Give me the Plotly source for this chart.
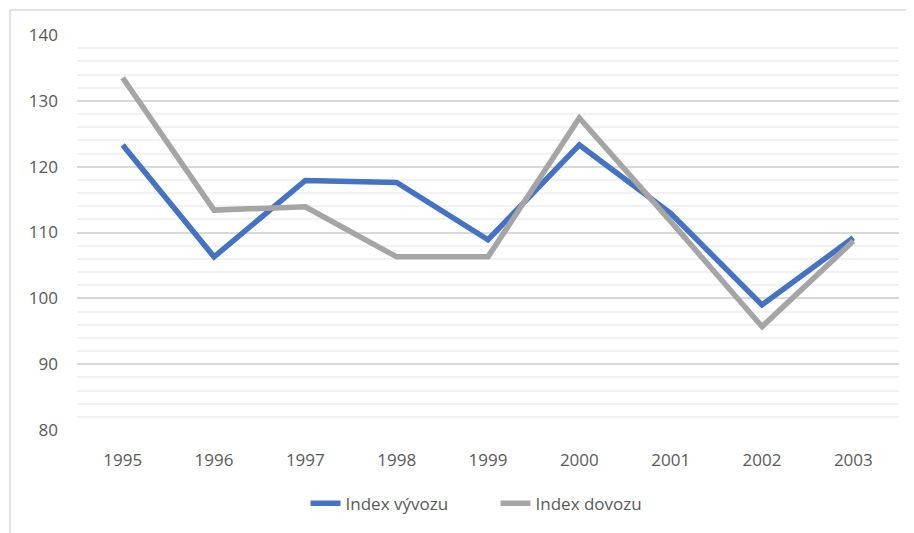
import plotly.graph_objects as go

roky = ['1995', '1996', '1997', '1998', '1999', '2000', '2001', '2002', '2003']
index_vyvozu = [123.3, 106.3, 117.9, 117.6, 108.9, 123.3, 112.9, 99.0, 109.2]
index_dovozu = [133.5, 113.4, 113.9, 106.3, 106.3, 127.4, 111.7, 95.7, 108.7]

fig = go.Figure()
fig.add_trace(go.Scatter(x=roky, y=index_vyvozu, mode='lines', name='Index vývozu',
                         line=dict(color='#4472C4', width=5.5)))
fig.add_trace(go.Scatter(x=roky, y=index_dovozu, mode='lines', name='Index dovozu',
                         line=dict(color='#A5A5A5', width=5.5)))

# light frame around the whole chart
fig.add_shape(type='rect', xref='paper', yref='paper',
              x0=-0.0815, x1=1.03, y0=-0.3, y1=1.063,
              line=dict(color='#d9d9d9', width=1.5), layer='below')

# page body has an 8px margin, so the figure is a bit smaller and shifted
fig.update_layout(
    width=906, height=525,
    margin=dict(l=69, r=15, t=27, b=102),
    paper_bgcolor='white', plot_bgcolor='white',
    font=dict(family='Open Sans', size=17, color='#595959'),
    showlegend=True,
    legend=dict(orientation='h', x=0.278, y=-0.138, xanchor='left', yanchor='top',
                entrywidth=145, entrywidthmode='pixels',
                font=dict(size=17, color='#595959')),
    xaxis=dict(type='category', range=[-0.5, 8.5], showgrid=False, showline=False,
               ticks='', tickfont=dict(size=17), ticklabelstandoff=18),
    yaxis=dict(range=[80, 140], dtick=10, showgrid=True, gridcolor='#d9d9d9', gridwidth=1.5,
               zeroline=False, ticks='', tickfont=dict(size=17), ticklabelstandoff=18,
               minor=dict(dtick=2, showgrid=True, gridcolor='#f2f2f2', gridwidth=1.5)),
)

fig.write_html('out.html')
